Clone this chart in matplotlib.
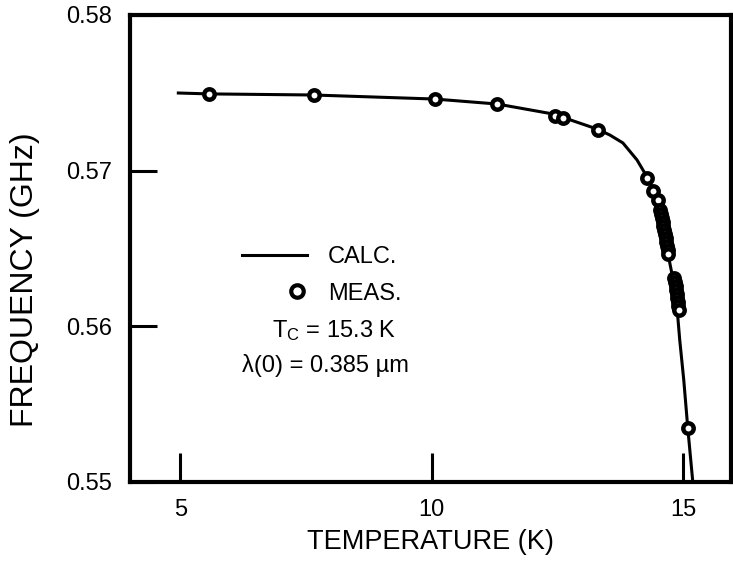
import numpy as np
import matplotlib
matplotlib.use("Agg")
import matplotlib.pyplot as plt
from matplotlib.lines import Line2D
from matplotlib.legend_handler import HandlerLine2D

plt.rcParams["font.family"] = ["Liberation Sans", "DejaVu Sans"]
plt.rcParams["mathtext.fontset"] = "custom"
plt.rcParams["mathtext.rm"] = "Liberation Sans"
plt.rcParams["mathtext.it"] = "Liberation Sans:italic"

# calculated curve (K, GHz)
calc_temp = [4.93, 5.57, 7.64, 10.06, 11.30, 12.41, 13.28, 13.54, 13.80, 14.08,
             14.28, 14.40, 14.54, 14.62, 14.70, 14.80, 14.88, 14.93, 15.01,
             15.09, 15.19]
calc_freq = [0.57499, 0.57493, 0.57486, 0.57460, 0.57428, 0.57364, 0.57268,
             0.57229, 0.57178, 0.57069, 0.56960, 0.56876, 0.56780, 0.56619,
             0.56459, 0.56298, 0.56105, 0.55913, 0.55656, 0.55347, 0.55000]

# measured points
meas_temp = [5.57, 7.66, 10.06, 11.30, 12.45, 12.61, 13.30, 14.28, 14.40, 14.50,
             14.54, 14.56, 14.58, 14.60, 14.60, 14.62, 14.64, 14.66, 14.66,
             14.68, 14.70, 14.70,
             14.82, 14.84, 14.86, 14.86, 14.88, 14.88, 14.90, 14.90, 14.92,
             15.09]
meas_freq = [0.57493, 0.57486, 0.57460, 0.57428, 0.57351, 0.57338, 0.57261,
             0.56953, 0.56870, 0.56812,
             0.56748, 0.56722, 0.56696, 0.56671, 0.56645, 0.56619, 0.56593,
             0.56568, 0.56542, 0.56516, 0.56491, 0.56465,
             0.56311, 0.56285, 0.56259, 0.56234, 0.56208, 0.56182, 0.56157,
             0.56131, 0.56105,
             0.55347]

x_ticks = [5, 10, 15]
y_ticks = [0.55, 0.56, 0.57, 0.58]
y_tick_labels = ["0.55", "0.56", "0.57", "0.58"]


class MarkerRight(HandlerLine2D):
    """Legend handler: marker only, sitting near the right end of the key."""
    def create_artists(self, legend, orig_handle, xdescent, ydescent,
                       width, height, fontsize, trans):
        x = -xdescent + 0.84 * width
        y = (height - ydescent) / 2
        marker = Line2D([x], [y])
        self.update_prop(marker, orig_handle, legend)
        marker.set_transform(trans)
        return [marker]


fig = plt.figure(figsize=(7.33, 5.63), dpi=100)
ax = fig.add_axes([0.1774, 0.1439, 0.8199, 0.8295])

ax.plot(calc_temp, calc_freq, color="black", lw=2.2, solid_capstyle="butt")
ax.plot(meas_temp, meas_freq, ls="none", marker="o", ms=7.5, mew=3.2,
        mfc="white", mec="black")

ax.set_xlim(4.0, 15.95)
ax.set_ylim(0.55, 0.58)
ax.set_xticks(x_ticks)
ax.set_xticklabels([str(t) for t in x_ticks])
ax.set_yticks(y_ticks)
ax.set_yticklabels(y_tick_labels)

for s in ax.spines.values():
    s.set_linewidth(3)
ax.tick_params(axis="x", direction="in", length=21, width=2.2, labelsize=17, pad=12)
ax.tick_params(axis="y", direction="in", length=19.5, width=2.2, labelsize=17, pad=13)

ax.set_xlabel("TEMPERATURE (K)", fontsize=19.5)
ax.set_ylabel("FREQUENCY (GHz)", fontsize=23)
ax.xaxis.set_label_coords(0.5, -0.10)
ax.yaxis.set_label_coords(-0.150, 0.4325)

calc_key = Line2D([], [], color="black", lw=2.2)
meas_key = Line2D([], [], ls="none", marker="o", ms=9, mew=3.0,
                  mfc="white", mec="black")
ax.legend([calc_key, meas_key], ["CALC.", "MEAS."], loc="upper left",
          bbox_to_anchor=(0.1864, 0.5055), frameon=False, fontsize=17,
          handlelength=2.75, handletextpad=0.9, labelspacing=0.62,
          borderpad=0, borderaxespad=0,
          handler_map={meas_key: MarkerRight()})

ax.text(0.2363, 0.3105, r"T$_{\rm C}$ = 15.3 K", transform=ax.transAxes,
        fontsize=17, va="baseline", ha="left")
ax.text(0.1864, 0.2355, "λ(0) = 0.385 µm", transform=ax.transAxes,
        fontsize=17, va="baseline", ha="left")

fig.savefig("out.png", dpi=100)
